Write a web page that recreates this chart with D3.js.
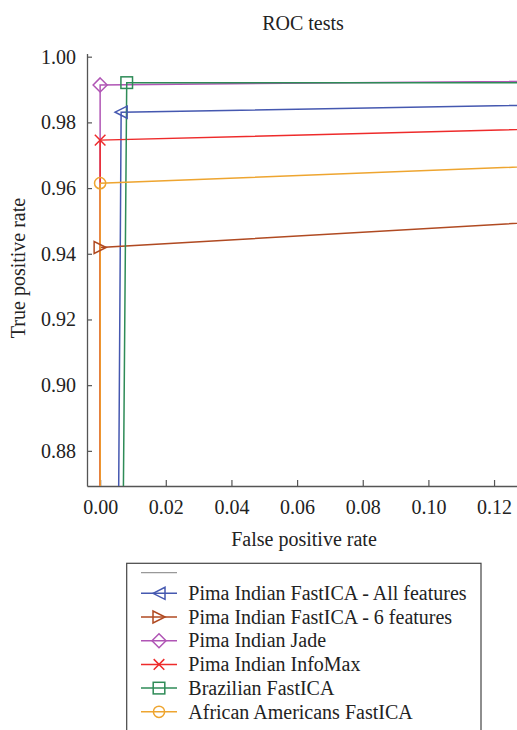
<!DOCTYPE html>
<html>
<head>
<meta charset="utf-8">
<script src="https://cdn.jsdelivr.net/npm/d3@7"></script>
<style>
  html, body { margin: 0; padding: 0; background: #fff; }
  svg { display: block; }
  text { font-family: "Liberation Serif", "Times New Roman", serif; fill: #222; }
</style>
</head>
<body>
<div id="chart"></div>
<script>
// ---- data ----
const seriesNames = [
  "Pima Indian FastICA - All features",
  "Pima Indian FastICA - 6 features",
  "Pima Indian Jade",
  "Pima Indian InfoMax",
  "Brazilian FastICA",
  "African Americans FastICA"
];
const fprValues = [0.0064, 0.0, 0.0, 0.0, 0.0081, 0.0];
const tprValues = [0.9831, 0.9419, 0.9914, 0.9746, 0.9921, 0.9615];
const endFpr = [1, 1, 1, 1, 1, 1];
const endTpr = [1, 1, 1, 1, 0.9921, 1];
const seriesColors = ["#4558b0", "#b04a22", "#b055b5", "#ee2b2b", "#2e8b57", "#eea530"];
const seriesMarkers = ["triangleLeft", "triangleRight", "diamond", "cross", "square", "circle"];
const xTicks = [0.00, 0.02, 0.04, 0.06, 0.08, 0.10, 0.12];
const yTicks = [0.88, 0.90, 0.92, 0.94, 0.96, 0.98, 1.00];
const titleText = "ROC tests";
const xLabel = "False positive rate";
const yLabel = "True positive rate";

// ---- layout ----
const W = 517, H = 730;
const FS = 20;
const svg = d3.select("#chart").append("svg").attr("width", W).attr("height", H);

const x = d3.scaleLinear().domain([-0.004, 0.1276]).range([87, 519]);
const y = d3.scaleLinear().domain([0.8693, 1.001]).range([486, 53.4]);

// curves: (0,0) -> (fpr,tpr) -> end
const curves = seriesNames.map((name, i) => ({
  name, color: seriesColors[i], marker: seriesMarkers[i],
  pts: [[0, 0], [fprValues[i], tprValues[i]], [endFpr[i], endTpr[i]]],
  mid: [fprValues[i], tprValues[i]]
}));

svg.append("defs").append("clipPath").attr("id", "plotclip")
  .append("rect").attr("x", 87).attr("y", 40).attr("width", 440).attr("height", 446);

// title
svg.append("text").attr("x", 303).attr("y", 30).attr("text-anchor", "middle")
  .style("font-size", FS + "px").text(titleText);

// axes
const xAxis = d3.axisBottom(x).tickValues(xTicks).tickFormat(d3.format(".2f"))
  .tickSizeInner(-6).tickSizeOuter(0).tickPadding(14);
const gx = svg.append("g").attr("transform", "translate(0,486)").call(xAxis);
gx.select(".domain").attr("stroke", "#555").attr("stroke-width", 1.3);
gx.selectAll(".tick line").attr("stroke", "#555").attr("stroke-width", 1.2);
gx.selectAll(".tick text").style("font-size", FS + "px").style("font-family", "Liberation Serif, serif").attr("fill", "#222");

const yAxis = d3.axisLeft(y).tickValues(yTicks).tickFormat(d3.format(".2f"))
  .tickSizeInner(-5).tickSizeOuter(0).tickPadding(11);
const gy = svg.append("g").attr("transform", "translate(87,0)").call(yAxis);
gy.select(".domain").attr("stroke", "#555").attr("stroke-width", 1.3);
gy.selectAll(".tick line").attr("stroke", "#555").attr("stroke-width", 1.2);
gy.selectAll(".tick text").style("font-size", FS + "px").style("font-family", "Liberation Serif, serif").attr("fill", "#222");

svg.append("text").attr("x", 304).attr("y", 546).attr("text-anchor", "middle")
  .style("font-size", FS + "px").text(xLabel);
svg.append("text").attr("transform", "translate(25,268) rotate(-90)").attr("text-anchor", "middle")
  .style("font-size", FS + "px").text(yLabel);

// marker drawing
function drawMarker(g, type, cx, cy, color) {
  const s = 6;
  let el;
  switch (type) {
    case "triangleLeft":
      el = g.append("path").attr("d", `M${cx - s},${cy} L${cx + s},${cy - s} L${cx + s},${cy + s} Z`); break;
    case "triangleRight":
      el = g.append("path").attr("d", `M${cx + s},${cy} L${cx - s},${cy - s} L${cx - s},${cy + s} Z`); break;
    case "diamond":
      el = g.append("path").attr("d", `M${cx},${cy - 7} L${cx + 7},${cy} L${cx},${cy + 7} L${cx - 7},${cy} Z`); break;
    case "cross":
      el = g.append("path").attr("d", `M${cx - 5.3},${cy - 5.3} L${cx + 5.3},${cy + 5.3} M${cx - 5.3},${cy + 5.3} L${cx + 5.3},${cy - 5.3}`); break;
    case "square":
      el = g.append("rect").attr("x", cx - 5.8).attr("y", cy - 5.8).attr("width", 11.6).attr("height", 11.6); break;
    case "circle":
      el = g.append("circle").attr("cx", cx).attr("cy", cy).attr("r", 5.6); break;
  }
  el.attr("fill", "none").attr("stroke", color).attr("stroke-width", 1.5);
}

const line = d3.line().x(d => x(d[0])).y(d => y(d[1]));
const plot = svg.append("g").attr("clip-path", "url(#plotclip)");
curves.forEach(c => {
  plot.append("path").datum(c.pts).attr("d", line)
    .attr("fill", "none").attr("stroke", c.color).attr("stroke-width", 1.5);
});
const mk = svg.append("g");
curves.forEach(c => {
  drawMarker(mk, c.marker, x(c.mid[0]), y(c.mid[1]), c.color);
});

// legend
const lg = svg.append("g");
lg.append("rect").attr("x", 126.7).attr("y", 563.3).attr("width", 354.3).attr("height", 200)
  .attr("fill", "#fff").attr("stroke", "#444").attr("stroke-width", 1.2);
lg.append("line").attr("x1", 141).attr("x2", 177).attr("y1", 572.7).attr("y2", 572.7)
  .attr("stroke", "#999").attr("stroke-width", 1.2);
curves.forEach((c, i) => {
  const cy = 593.3 + i * 23.7;
  lg.append("line").attr("x1", 141).attr("x2", 177).attr("y1", cy).attr("y2", cy)
    .attr("stroke", c.color).attr("stroke-width", 1.5);
  drawMarker(lg, c.marker, 159, cy, c.color);
  lg.append("text").attr("x", 188.3).attr("y", cy + 6.7)
    .style("font-size", FS + "px").text(c.name);
});
</script>
</body>
</html>
